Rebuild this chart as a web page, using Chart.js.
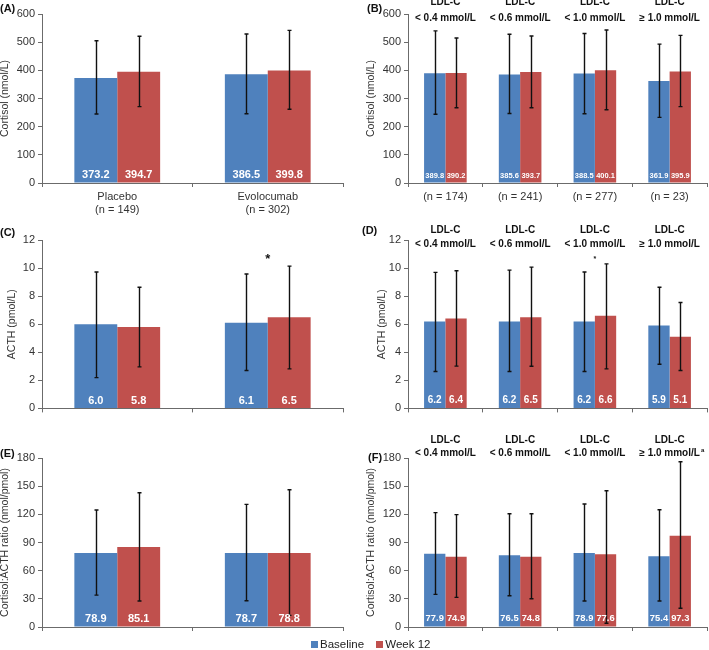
<!DOCTYPE html>
<html>
<head>
<meta charset="utf-8">
<script src="https://cdn.jsdelivr.net/npm/chart.js@4.4.1/dist/chart.umd.min.js"></script>
<style>
    body { margin: 0; background: #fff; font-family: "Liberation Sans", Arial, sans-serif; }
    #wrap { position: relative; width: 709px; height: 650px; overflow: hidden; }
    #wrap canvas { position: absolute; }
    .panel-label { position: absolute; font-weight: bold; font-size: 11px; color: #111; line-height: 1; }
    #legend { position: absolute; top: 639px; left: 311px; font-size: 11.5px; color: #222; line-height: 1; white-space: nowrap; }
    #legend .sw { display: inline-block; width: 7px; height: 7px; margin-right: 2px; }
</style>
</head>
<body>
<div id="wrap">
    <canvas id="chartA" width="355" height="218" style="left:0;top:0"></canvas>
    <canvas id="chartB" width="354" height="218" style="left:355px;top:0"></canvas>
    <canvas id="chartC" width="355" height="200" style="left:0;top:218px"></canvas>
    <canvas id="chartD" width="354" height="200" style="left:355px;top:218px"></canvas>
    <canvas id="chartE" width="355" height="222" style="left:0;top:418px"></canvas>
    <canvas id="chartF" width="354" height="222" style="left:355px;top:418px"></canvas>

    <div class="panel-label" style="left:0;top:3px">(A)</div>
    <div class="panel-label" style="left:367px;top:3px">(B)</div>
    <div class="panel-label" style="left:0;top:227px">(C)</div>
    <div class="panel-label" style="left:362px;top:225px">(D)</div>
    <div class="panel-label" style="left:0;top:448px">(E)</div>
    <div class="panel-label" style="left:368px;top:452px">(F)</div>

    <div id="legend">
        <span class="sw" style="background:#4F81BD"></span>Baseline
        <span class="sw" style="background:#C0504D;margin-left:9px"></span>Week 12
    </div>
</div>

<script>
// categories
const treatmentLabels = [['Placebo', '(n = 149)'], ['Evolocumab', '(n = 302)']];
const ldlHeaders = [['LDL-C', '< 0.4 mmol/L'], ['LDL-C', '< 0.6 mmol/L'], ['LDL-C', '< 1.0 mmol/L'], ['LDL-C', '≥ 1.0 mmol/L']];
const ldlCounts = ['(n = 174)', '(n = 241)', '(n = 277)', '(n = 23)'];

// (A) cortisol by treatment
const cortBase = [373.2, 386.5];
const cortWk12 = [394.7, 399.8];
const cortBaseLow = [245, 246];
const cortBaseHigh = [505, 529];
const cortWk12Low = [271, 262];
const cortWk12High = [521, 542];

// (B) cortisol by LDL-C group
const ldlCortBase = [389.8, 385.6, 388.5, 361.9];
const ldlCortWk12 = [390.2, 393.7, 400.1, 395.9];
const ldlCortBaseLow = [244, 247, 246, 233];
const ldlCortBaseHigh = [540, 528, 531, 493];
const ldlCortWk12Low = [267, 267, 260, 271];
const ldlCortWk12High = [515, 522, 543, 524];

// (C) ACTH by treatment
const acthBase = [6.0, 6.1];
const acthWk12 = [5.8, 6.5];
const acthBaseLow = [2.19, 2.70];
const acthBaseHigh = [9.72, 9.58];
const acthWk12Low = [2.96, 2.82];
const acthWk12High = [8.63, 10.14];

// (D) ACTH by LDL-C group
const ldlActhBase = [6.2, 6.2, 6.2, 5.9];
const ldlActhWk12 = [6.4, 6.5, 6.6, 5.1];
const ldlActhBaseLow = [2.63, 2.63, 2.63, 3.15];
const ldlActhBaseHigh = [9.69, 9.85, 9.72, 8.63];
const ldlActhWk12Low = [3.01, 3.0, 2.82, 2.70];
const ldlActhWk12High = [9.81, 10.07, 10.30, 7.55];

// (E) cortisol:ACTH ratio by treatment
const ratioBase = [78.9, 78.7];
const ratioWk12 = [85.1, 78.8];
const ratioBaseLow = [34, 28];
const ratioBaseHigh = [124.6, 130.6];
const ratioWk12Low = [27.7, 12.4];
const ratioWk12High = [143, 146.2];

// (F) cortisol:ACTH ratio by LDL-C group
const ldlRatioBase = [77.9, 76.5, 78.9, 75.4];
const ldlRatioWk12 = [74.9, 74.8, 77.6, 97.3];
const ldlRatioBaseLow = [34.8, 33.3, 27.7, 27.7];
const ldlRatioBaseHigh = [121.8, 120.7, 131, 124.9];
const ldlRatioWk12Low = [31.6, 30.1, 4, 19.9];
const ldlRatioWk12High = [119.7, 120.7, 145.1, 176];

const BLUE = '#4F81BD';
const RED = '#C0504D';
const AXIS = '#6b6b6b';
const FONT = '"Liberation Sans", Arial, sans-serif';

Chart.defaults.font.family = FONT;
Chart.defaults.color = '#333';

// error bars, white value labels, group headers and asterisks
const extrasPlugin = {
    id: 'extras',
    afterDatasetsDraw(chart, args, opts) {
        const ctx = chart.ctx;
        const yScale = chart.scales.y;
        ctx.save();
        chart.data.datasets.forEach((ds, di) => {
            const meta = chart.getDatasetMeta(di);
            meta.data.forEach((bar, i) => {
                const top = yScale.getPixelForValue(ds.errHigh[i]);
                const bottom = yScale.getPixelForValue(ds.errLow[i]);
                const x = Math.round(bar.x) + 0.5;
                ctx.strokeStyle = '#111';
                ctx.lineWidth = 1.4;
                ctx.beginPath();
                ctx.moveTo(x, top);
                ctx.lineTo(x, bottom);
                ctx.moveTo(x - 2, top);
                ctx.lineTo(x + 2, top);
                ctx.moveTo(x - 2, bottom);
                ctx.lineTo(x + 2, bottom);
                ctx.stroke();
            });
        });
        chart.data.datasets.forEach((ds, di) => {
            const meta = chart.getDatasetMeta(di);
            meta.data.forEach((bar, i) => {
                ctx.fillStyle = '#fff';
                ctx.font = 'bold ' + opts.valueSize + 'px ' + FONT;
                ctx.textAlign = 'center';
                ctx.textBaseline = 'middle';
                ctx.fillText(ds.data[i].toFixed(1), bar.x, yScale.bottom - opts.valueOffset);
            });
        });
        ctx.restore();
    },
    afterDraw(chart, args, opts) {
        const ctx = chart.ctx;
        const xScale = chart.scales.x;
        const top = chart.chartArea.top;
        ctx.save();
        ctx.fillStyle = '#111';
        ctx.textAlign = 'center';
        ctx.textBaseline = 'middle';
        if (opts.headers) {
            ctx.font = 'bold 10px ' + FONT;
            opts.headers.forEach((lines, i) => {
                const x = xScale.getPixelForValue(i);
                ctx.fillText(lines[0], x, top + opts.headerY[0]);
                ctx.fillText(lines[1], x, top + opts.headerY[1]);
                if (opts.superscript && i === opts.headers.length - 1) {
                    const w = ctx.measureText(lines[1]).width;
                    ctx.font = 'bold 6px ' + FONT;
                    ctx.textAlign = 'left';
                    ctx.fillText(opts.superscript, x + w / 2 + 1, top + opts.headerY[1] - 3);
                    ctx.font = 'bold 10px ' + FONT;
                    ctx.textAlign = 'center';
                }
            });
        }
        (opts.stars || []).forEach(s => {
            ctx.font = 'bold ' + s.size + 'px ' + FONT;
            ctx.textBaseline = 'alphabetic';
            ctx.fillText('*', xScale.getPixelForValue(s.index), top + s.dy);
        });
        ctx.restore();
    }
};

function makeChart(id, cfg) {
    const canvas = document.getElementById(id);
    return new Chart(canvas, {
        type: 'bar',
        data: {
            labels: cfg.labels,
            datasets: [
                { label: 'Baseline', data: cfg.base, errLow: cfg.baseLow, errHigh: cfg.baseHigh, backgroundColor: BLUE, borderWidth: 0 },
                { label: 'Week 12', data: cfg.wk12, errLow: cfg.wk12Low, errHigh: cfg.wk12High, backgroundColor: RED, borderWidth: 0 }
            ]
        },
        options: {
            responsive: false,
            animation: false,
            devicePixelRatio: 1,
            datasets: { bar: { categoryPercentage: 0.57, barPercentage: 1.0 } },
            layout: { padding: { top: cfg.padTop, right: cfg.padRight, left: 0, bottom: 0 } },
            plugins: {
                legend: { display: false },
                tooltip: { enabled: false },
                extras: {
                    valueSize: cfg.valueSize,
                    valueOffset: cfg.valueOffset,
                    headers: cfg.headers,
                    headerY: cfg.headerY,
                    superscript: cfg.superscript,
                    stars: cfg.stars
                }
            },
            scales: {
                x: {
                    offset: true,
                    grid: { offset: true, drawOnChartArea: false, drawTicks: true, tickLength: 4, color: AXIS },
                    border: { color: AXIS, width: 1 },
                    ticks: {
                        display: cfg.showLabels,
                        font: { size: 11 },
                        color: '#333',
                        padding: 3,
                        maxRotation: 0,
                        autoSkip: false
                    },
                    afterFit: (scale) => { scale.height = cfg.xHeight; }
                },
                y: {
                    min: 0,
                    max: cfg.yMax,
                    ticks: { stepSize: cfg.yStep, font: { size: 11 }, color: '#333', padding: 3 },
                    grid: { drawOnChartArea: false, drawTicks: true, tickLength: 4, color: AXIS },
                    border: { color: AXIS, width: 1 },
                    title: {
                        display: true,
                        text: cfg.yTitle,
                        font: { size: 10.5, lineHeight: 1 },
                        color: '#333',
                        padding: { top: cfg.titlePad, bottom: 0 }
                    },
                    afterFit: (scale) => { scale.width = cfg.yWidth; }
                }
            }
        },
        plugins: [extrasPlugin]
    });
}

makeChart('chartA', {
    labels: treatmentLabels, base: cortBase, wk12: cortWk12,
    baseLow: cortBaseLow, baseHigh: cortBaseHigh, wk12Low: cortWk12Low, wk12High: cortWk12High,
    yMax: 600, yStep: 100, yTitle: 'Cortisol (nmol/L)', titlePad: 0,
    padTop: 14, padRight: 12, yWidth: 42, xHeight: 35, showLabels: true,
    valueSize: 11, valueOffset: 8
});

makeChart('chartB', {
    labels: ldlCounts, base: ldlCortBase, wk12: ldlCortWk12,
    baseLow: ldlCortBaseLow, baseHigh: ldlCortBaseHigh, wk12Low: ldlCortWk12Low, wk12High: ldlCortWk12High,
    yMax: 600, yStep: 100, yTitle: 'Cortisol (nmol/L)', titlePad: 11,
    padTop: 14, padRight: 2, yWidth: 53, xHeight: 35, showLabels: true,
    valueSize: 7.5, valueOffset: 7.5,
    headers: ldlHeaders, headerY: [-11.5, 4.3]
});

makeChart('chartC', {
    labels: treatmentLabels, base: acthBase, wk12: acthWk12,
    baseLow: acthBaseLow, baseHigh: acthBaseHigh, wk12Low: acthWk12Low, wk12High: acthWk12High,
    yMax: 12, yStep: 2, yTitle: 'ACTH (pmol/L)', titlePad: 7,
    padTop: 22, padRight: 12, yWidth: 42, xHeight: 8, showLabels: false,
    valueSize: 11, valueOffset: 7,
    stars: [{ index: 1, size: 13, dy: 23 }]
});

makeChart('chartD', {
    labels: ldlCounts, base: ldlActhBase, wk12: ldlActhWk12,
    baseLow: ldlActhBaseLow, baseHigh: ldlActhBaseHigh, wk12Low: ldlActhWk12Low, wk12High: ldlActhWk12High,
    yMax: 12, yStep: 2, yTitle: 'ACTH (pmol/L)', titlePad: 22,
    padTop: 22, padRight: 2, yWidth: 53, xHeight: 8, showLabels: false,
    valueSize: 10, valueOffset: 8,
    headers: ldlHeaders, headerY: [-10, 4.3],
    stars: [{ index: 2, size: 7, dy: 21 }]
});

makeChart('chartE', {
    labels: treatmentLabels, base: ratioBase, wk12: ratioWk12,
    baseLow: ratioBaseLow, baseHigh: ratioBaseHigh, wk12Low: ratioWk12Low, wk12High: ratioWk12High,
    yMax: 180, yStep: 30, yTitle: 'Cortisol:ACTH ratio (nmol/pmol)', titlePad: 0,
    padTop: 40, padRight: 12, yWidth: 42, xHeight: 13, showLabels: false,
    valueSize: 11, valueOffset: 8.5
});

makeChart('chartF', {
    labels: ldlCounts, base: ldlRatioBase, wk12: ldlRatioWk12,
    baseLow: ldlRatioBaseLow, baseHigh: ldlRatioBaseHigh, wk12Low: ldlRatioWk12Low, wk12High: ldlRatioWk12High,
    yMax: 180, yStep: 30, yTitle: 'Cortisol:ACTH ratio (nmol/pmol)', titlePad: 11,
    padTop: 40, padRight: 2, yWidth: 53, xHeight: 13, showLabels: false,
    valueSize: 9.4, valueOffset: 8.5,
    headers: ldlHeaders, headerY: [-17.3, -4.7], superscript: 'a'
});
</script>
</body>
</html>
